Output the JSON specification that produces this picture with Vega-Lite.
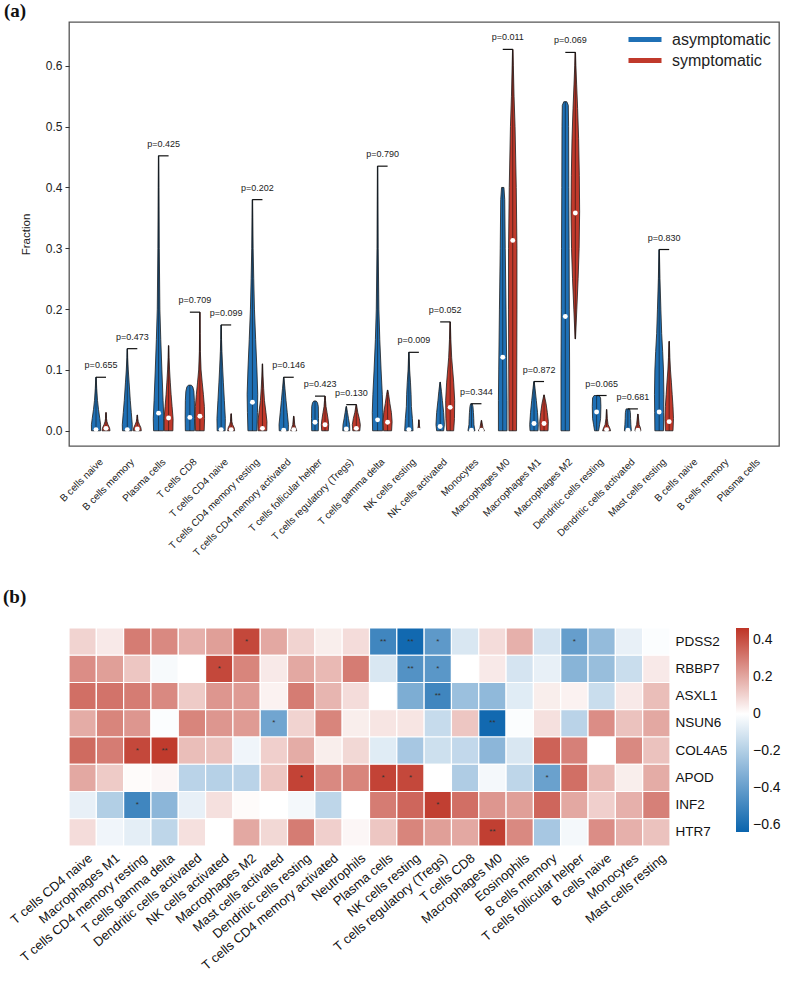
{
"$schema": "https://vega.github.io/schema/vega-lite/v6.json",
"padding": {"left": 3, "top": 1, "right": 2, "bottom": 2},
"spacing": 29,
"resolve": {"scale": {"color": "independent"}, "legend": {"color": "independent"}},
"config": {"font": "Liberation Sans", "axis": {"labelColor": "#222", "titleColor": "#222"}, "legend": {"labelColor": "#222"}, "title": {"color": "#111"}},
"datasets": {
"prof": [
{"c":0,"g":"a","v":0,"d":4.5},{"c":0,"g":"a","v":0.01,"d":4.6},{"c":0,"g":"a","v":0.02,"d":3.8},{"c":0,"g":"a","v":0.035,"d":2.5},{"c":0,"g":"a","v":0.05,"d":1.5},{"c":0,"g":"a","v":0.07,"d":0.7},{"c":0,"g":"a","v":0.088,"d":0.2},
{"c":0,"g":"s","v":0,"d":4},{"c":0,"g":"s","v":0.005,"d":3.5},{"c":0,"g":"s","v":0.01,"d":2},{"c":0,"g":"s","v":0.015,"d":1},{"c":0,"g":"s","v":0.02,"d":0.5},{"c":0,"g":"s","v":0.03,"d":0.2},
{"c":1,"g":"a","v":0,"d":4.8},{"c":1,"g":"a","v":0.01,"d":5},{"c":1,"g":"a","v":0.03,"d":4},{"c":1,"g":"a","v":0.05,"d":3},{"c":1,"g":"a","v":0.08,"d":1.8},{"c":1,"g":"a","v":0.1,"d":1},{"c":1,"g":"a","v":0.12,"d":0.4},{"c":1,"g":"a","v":0.135,"d":0.2},
{"c":1,"g":"s","v":0,"d":4},{"c":1,"g":"s","v":0.005,"d":3.6},{"c":1,"g":"s","v":0.01,"d":2.2},{"c":1,"g":"s","v":0.015,"d":1},{"c":1,"g":"s","v":0.02,"d":0.5},{"c":1,"g":"s","v":0.026,"d":0.2},
{"c":2,"g":"a","v":0,"d":5},{"c":2,"g":"a","v":0.02,"d":5.3},{"c":2,"g":"a","v":0.05,"d":4.5},{"c":2,"g":"a","v":0.1,"d":3.3},{"c":2,"g":"a","v":0.15,"d":2.2},{"c":2,"g":"a","v":0.2,"d":1.3},{"c":2,"g":"a","v":0.3,"d":0.7},{"c":2,"g":"a","v":0.4,"d":0.4},{"c":2,"g":"a","v":0.452,"d":0.2},
{"c":2,"g":"s","v":0,"d":4.3},{"c":2,"g":"s","v":0.02,"d":4.5},{"c":2,"g":"s","v":0.04,"d":3.5},{"c":2,"g":"s","v":0.06,"d":2.5},{"c":2,"g":"s","v":0.08,"d":1.7},{"c":2,"g":"s","v":0.1,"d":1},{"c":2,"g":"s","v":0.12,"d":0.5},{"c":2,"g":"s","v":0.14,"d":0.2},
{"c":3,"g":"a","v":0,"d":4.5},{"c":3,"g":"a","v":0.02,"d":4.7},{"c":3,"g":"a","v":0.05,"d":4.5},{"c":3,"g":"a","v":0.065,"d":4},{"c":3,"g":"a","v":0.072,"d":3},{"c":3,"g":"a","v":0.075,"d":1.5},
{"c":3,"g":"s","v":0,"d":4.3},{"c":3,"g":"s","v":0.02,"d":4.7},{"c":3,"g":"s","v":0.04,"d":4.5},{"c":3,"g":"s","v":0.06,"d":3.5},{"c":3,"g":"s","v":0.08,"d":2.3},{"c":3,"g":"s","v":0.1,"d":1.2},{"c":3,"g":"s","v":0.13,"d":0.5},{"c":3,"g":"s","v":0.16,"d":0.3},{"c":3,"g":"s","v":0.195,"d":0.2},
{"c":4,"g":"a","v":0,"d":4},{"c":4,"g":"a","v":0.02,"d":4.2},{"c":4,"g":"a","v":0.05,"d":3.2},{"c":4,"g":"a","v":0.08,"d":2.2},{"c":4,"g":"a","v":0.1,"d":1.6},{"c":4,"g":"a","v":0.13,"d":0.8},{"c":4,"g":"a","v":0.15,"d":0.4},{"c":4,"g":"a","v":0.174,"d":0.2},
{"c":4,"g":"s","v":0,"d":3.5},{"c":4,"g":"s","v":0.005,"d":3},{"c":4,"g":"s","v":0.01,"d":1.5},{"c":4,"g":"s","v":0.015,"d":0.7},{"c":4,"g":"s","v":0.028,"d":0.2},
{"c":5,"g":"a","v":0,"d":4.5},{"c":5,"g":"a","v":0.03,"d":5},{"c":5,"g":"a","v":0.06,"d":5.3},{"c":5,"g":"a","v":0.1,"d":4.5},{"c":5,"g":"a","v":0.15,"d":3.2},{"c":5,"g":"a","v":0.2,"d":2},{"c":5,"g":"a","v":0.25,"d":1.3},{"c":5,"g":"a","v":0.3,"d":0.7},{"c":5,"g":"a","v":0.35,"d":0.4},{"c":5,"g":"a","v":0.38,"d":0.2},
{"c":5,"g":"s","v":0,"d":4.3},{"c":5,"g":"s","v":0.015,"d":4.5},{"c":5,"g":"s","v":0.03,"d":3.5},{"c":5,"g":"s","v":0.05,"d":2},{"c":5,"g":"s","v":0.07,"d":1.2},{"c":5,"g":"s","v":0.09,"d":0.6},{"c":5,"g":"s","v":0.11,"d":0.2},
{"c":6,"g":"a","v":0,"d":4.5},{"c":6,"g":"a","v":0.01,"d":4.7},{"c":6,"g":"a","v":0.03,"d":3.5},{"c":6,"g":"a","v":0.05,"d":2.3},{"c":6,"g":"a","v":0.07,"d":1.2},{"c":6,"g":"a","v":0.088,"d":0.2},
{"c":6,"g":"s","v":0,"d":3},{"c":6,"g":"s","v":0.005,"d":2},{"c":6,"g":"s","v":0.01,"d":1},{"c":6,"g":"s","v":0.024,"d":0.2},
{"c":7,"g":"a","v":0,"d":3.3},{"c":7,"g":"a","v":0.02,"d":3.5},{"c":7,"g":"a","v":0.04,"d":3.3},{"c":7,"g":"a","v":0.046,"d":2.5},{"c":7,"g":"a","v":0.049,"d":1.2},
{"c":7,"g":"s","v":0,"d":3.3},{"c":7,"g":"s","v":0.01,"d":3.7},{"c":7,"g":"s","v":0.02,"d":3},{"c":7,"g":"s","v":0.03,"d":2},{"c":7,"g":"s","v":0.04,"d":1},{"c":7,"g":"s","v":0.05,"d":0.5},{"c":7,"g":"s","v":0.057,"d":0.2},
{"c":8,"g":"a","v":0,"d":3.5},{"c":8,"g":"a","v":0.01,"d":3.3},{"c":8,"g":"a","v":0.02,"d":2.2},{"c":8,"g":"a","v":0.03,"d":1.2},{"c":8,"g":"a","v":0.04,"d":0.2},
{"c":8,"g":"s","v":0,"d":3.5},{"c":8,"g":"s","v":0.01,"d":4},{"c":8,"g":"s","v":0.02,"d":3},{"c":8,"g":"s","v":0.03,"d":1.5},{"c":8,"g":"s","v":0.043,"d":0.2},
{"c":9,"g":"a","v":0,"d":5},{"c":9,"g":"a","v":0.03,"d":5.3},{"c":9,"g":"a","v":0.06,"d":4.7},{"c":9,"g":"a","v":0.1,"d":3.5},{"c":9,"g":"a","v":0.15,"d":2.2},{"c":9,"g":"a","v":0.2,"d":1.3},{"c":9,"g":"a","v":0.3,"d":0.6},{"c":9,"g":"a","v":0.435,"d":0.2},
{"c":9,"g":"s","v":0,"d":4},{"c":9,"g":"s","v":0.015,"d":4.5},{"c":9,"g":"s","v":0.03,"d":3.8},{"c":9,"g":"s","v":0.045,"d":2.3},{"c":9,"g":"s","v":0.06,"d":1},{"c":9,"g":"s","v":0.067,"d":0.2},
{"c":10,"g":"a","v":0,"d":4.2},{"c":10,"g":"a","v":0.02,"d":3.5},{"c":10,"g":"a","v":0.04,"d":2.5},{"c":10,"g":"a","v":0.06,"d":2.2},{"c":10,"g":"a","v":0.08,"d":1.6},{"c":10,"g":"a","v":0.1,"d":0.8},{"c":10,"g":"a","v":0.129,"d":0.2},
{"c":10,"g":"s","v":0,"d":1.5},{"c":10,"g":"s","v":0.008,"d":0.6},{"c":10,"g":"s","v":0.018,"d":0.2},
{"c":11,"g":"a","v":0,"d":3.5},{"c":11,"g":"a","v":0.01,"d":4.2},{"c":11,"g":"a","v":0.03,"d":3.5},{"c":11,"g":"a","v":0.05,"d":2.2},{"c":11,"g":"a","v":0.065,"d":1.3},{"c":11,"g":"a","v":0.08,"d":0.2},
{"c":11,"g":"s","v":0,"d":3.5},{"c":11,"g":"s","v":0.02,"d":4.3},{"c":11,"g":"s","v":0.05,"d":4.5},{"c":11,"g":"s","v":0.08,"d":3.5},{"c":11,"g":"s","v":0.1,"d":2.5},{"c":11,"g":"s","v":0.12,"d":1.5},{"c":11,"g":"s","v":0.15,"d":0.7},{"c":11,"g":"s","v":0.179,"d":0.2},
{"c":12,"g":"a","v":0,"d":3.5},{"c":12,"g":"a","v":0.01,"d":2.5},{"c":12,"g":"a","v":0.02,"d":2.3},{"c":12,"g":"a","v":0.03,"d":2},{"c":12,"g":"a","v":0.04,"d":1.5},{"c":12,"g":"a","v":0.0445,"d":0.8},
{"c":12,"g":"s","v":0,"d":3},{"c":12,"g":"s","v":0.005,"d":1.5},{"c":12,"g":"s","v":0.017,"d":0.2},
{"c":13,"g":"a","v":0,"d":4.3},{"c":13,"g":"a","v":0.05,"d":4.3},{"c":13,"g":"a","v":0.1,"d":4},{"c":13,"g":"a","v":0.2,"d":3.3},{"c":13,"g":"a","v":0.3,"d":2.5},{"c":13,"g":"a","v":0.38,"d":2},{"c":13,"g":"a","v":0.4,"d":1.2},
{"c":13,"g":"s","v":0,"d":3.8},{"c":13,"g":"s","v":0.1,"d":4},{"c":13,"g":"s","v":0.2,"d":4.2},{"c":13,"g":"s","v":0.3,"d":4.2},{"c":13,"g":"s","v":0.4,"d":3.5},{"c":13,"g":"s","v":0.5,"d":2.3},{"c":13,"g":"s","v":0.55,"d":1.3},{"c":13,"g":"s","v":0.6,"d":0.6},{"c":13,"g":"s","v":0.627,"d":0.2},
{"c":14,"g":"a","v":0,"d":4},{"c":14,"g":"a","v":0.01,"d":4.3},{"c":14,"g":"a","v":0.03,"d":3.5},{"c":14,"g":"a","v":0.05,"d":2.3},{"c":14,"g":"a","v":0.07,"d":1},{"c":14,"g":"a","v":0.081,"d":0.2},
{"c":14,"g":"s","v":0,"d":4},{"c":14,"g":"s","v":0.015,"d":4.3},{"c":14,"g":"s","v":0.03,"d":3.3},{"c":14,"g":"s","v":0.045,"d":2},{"c":14,"g":"s","v":0.059,"d":0.2},
{"c":15,"g":"a","v":0,"d":4.3},{"c":15,"g":"a","v":0.1,"d":4.3},{"c":15,"g":"a","v":0.2,"d":4},{"c":15,"g":"a","v":0.3,"d":3.8},{"c":15,"g":"a","v":0.4,"d":3.5},{"c":15,"g":"a","v":0.5,"d":3.3},{"c":15,"g":"a","v":0.535,"d":3},{"c":15,"g":"a","v":0.541,"d":1.5},
{"c":15,"g":"s","v":0.151,"d":0.2},{"c":15,"g":"s","v":0.2,"d":1.5},{"c":15,"g":"s","v":0.25,"d":2.8},{"c":15,"g":"s","v":0.3,"d":3.8},{"c":15,"g":"s","v":0.36,"d":4.3},{"c":15,"g":"s","v":0.42,"d":4},{"c":15,"g":"s","v":0.48,"d":3.3},{"c":15,"g":"s","v":0.53,"d":2.3},{"c":15,"g":"s","v":0.57,"d":1.3},{"c":15,"g":"s","v":0.6,"d":0.6},{"c":15,"g":"s","v":0.622,"d":0.2},
{"c":16,"g":"a","v":0,"d":2},{"c":16,"g":"a","v":0.01,"d":3},{"c":16,"g":"a","v":0.02,"d":4},{"c":16,"g":"a","v":0.04,"d":4.3},{"c":16,"g":"a","v":0.054,"d":4},{"c":16,"g":"a","v":0.058,"d":2.5},
{"c":16,"g":"s","v":0,"d":4},{"c":16,"g":"s","v":0.005,"d":3},{"c":16,"g":"s","v":0.01,"d":1.5},{"c":16,"g":"s","v":0.02,"d":0.7},{"c":16,"g":"s","v":0.035,"d":0.2},
{"c":17,"g":"a","v":0,"d":3.5},{"c":17,"g":"a","v":0.01,"d":3},{"c":17,"g":"a","v":0.02,"d":2.7},{"c":17,"g":"a","v":0.03,"d":2.5},{"c":17,"g":"a","v":0.036,"d":1.8},
{"c":17,"g":"s","v":0,"d":3},{"c":17,"g":"s","v":0.005,"d":2.5},{"c":17,"g":"s","v":0.01,"d":1.3},{"c":17,"g":"s","v":0.0275,"d":0.2},
{"c":18,"g":"a","v":0,"d":4.3},{"c":18,"g":"a","v":0.03,"d":4.5},{"c":18,"g":"a","v":0.06,"d":4.7},{"c":18,"g":"a","v":0.1,"d":4.3},{"c":18,"g":"a","v":0.13,"d":3.5},{"c":18,"g":"a","v":0.16,"d":2.5},{"c":18,"g":"a","v":0.2,"d":1.7},{"c":18,"g":"a","v":0.25,"d":0.8},{"c":18,"g":"a","v":0.298,"d":0.2},
{"c":18,"g":"s","v":0,"d":3.8},{"c":18,"g":"s","v":0.02,"d":4.3},{"c":18,"g":"s","v":0.04,"d":3.8},{"c":18,"g":"s","v":0.06,"d":3},{"c":18,"g":"s","v":0.08,"d":2.2},{"c":18,"g":"s","v":0.1,"d":1.3},{"c":18,"g":"s","v":0.12,"d":0.7},{"c":18,"g":"s","v":0.147,"d":0.2}
],
"stats": [
{"c":0,"g":"a","lo":0,"hi":0.088,"med":0.002},{"c":0,"g":"s","lo":0,"hi":0.03,"med":0.004},
{"c":1,"g":"a","lo":0,"hi":0.135,"med":0.002},{"c":1,"g":"s","lo":0,"hi":0.026,"med":0.003},
{"c":2,"g":"a","lo":0,"hi":0.452,"med":0.029},{"c":2,"g":"s","lo":0,"hi":0.14,"med":0.021},
{"c":3,"g":"a","lo":0,"hi":0.075,"med":0.022},{"c":3,"g":"s","lo":0,"hi":0.195,"med":0.024},
{"c":4,"g":"a","lo":0,"hi":0.174,"med":0.002},{"c":4,"g":"s","lo":0,"hi":0.028,"med":0.002},
{"c":5,"g":"a","lo":0,"hi":0.38,"med":0.047},{"c":5,"g":"s","lo":0,"hi":0.11,"med":0.004},
{"c":6,"g":"a","lo":0,"hi":0.088,"med":0.001},{"c":6,"g":"s","lo":0,"hi":0.024,"med":0.002},
{"c":7,"g":"a","lo":0,"hi":0.049,"med":0.014},{"c":7,"g":"s","lo":0,"hi":0.057,"med":0.01},
{"c":8,"g":"a","lo":0,"hi":0.04,"med":0.003},{"c":8,"g":"s","lo":0,"hi":0.043,"med":0.004},
{"c":9,"g":"a","lo":0,"hi":0.435,"med":0.018},{"c":9,"g":"s","lo":0,"hi":0.067,"med":0.014},
{"c":10,"g":"a","lo":0,"hi":0.129,"med":0.002},{"c":10,"g":"s","lo":0,"hi":0.018,"med":0.001},
{"c":11,"g":"a","lo":0,"hi":0.08,"med":0.007},{"c":11,"g":"s","lo":0,"hi":0.179,"med":0.0385},
{"c":12,"g":"a","lo":0,"hi":0.0445,"med":0.001},{"c":12,"g":"s","lo":0,"hi":0.017,"med":0.001},
{"c":13,"g":"a","lo":0,"hi":0.4,"med":0.121},{"c":13,"g":"s","lo":0,"hi":0.627,"med":0.313},
{"c":14,"g":"a","lo":0,"hi":0.081,"med":0.012},{"c":14,"g":"s","lo":0,"hi":0.059,"med":0.012},
{"c":15,"g":"a","lo":0,"hi":0.541,"med":0.188},{"c":15,"g":"s","lo":0.151,"hi":0.622,"med":0.358},
{"c":16,"g":"a","lo":0,"hi":0.058,"med":0.031},{"c":16,"g":"s","lo":0,"hi":0.035,"med":0.002},
{"c":17,"g":"a","lo":0,"hi":0.036,"med":0.001},{"c":17,"g":"s","lo":0,"hi":0.0275,"med":0.001},
{"c":18,"g":"a","lo":0,"hi":0.298,"med":0.031},{"c":18,"g":"s","lo":0,"hi":0.147,"med":0.015}
],
"pv": [
{"c":0,"top":0.088,"p":"p=0.655"},{"c":1,"top":0.135,"p":"p=0.473"},{"c":2,"top":0.452,"p":"p=0.425"},{"c":3,"top":0.195,"p":"p=0.709"},
{"c":4,"top":0.174,"p":"p=0.099"},{"c":5,"top":0.38,"p":"p=0.202"},{"c":6,"top":0.088,"p":"p=0.146"},{"c":7,"top":0.057,"p":"p=0.423"},
{"c":8,"top":0.043,"p":"p=0.130"},{"c":9,"top":0.435,"p":"p=0.790"},{"c":10,"top":0.129,"p":"p=0.009"},{"c":11,"top":0.179,"p":"p=0.052"},
{"c":12,"top":0.0445,"p":"p=0.344"},{"c":13,"top":0.627,"p":"p=0.011"},{"c":14,"top":0.081,"p":"p=0.872"},{"c":15,"top":0.622,"p":"p=0.069"},
{"c":16,"top":0.058,"p":"p=0.065"},{"c":17,"top":0.036,"p":"p=0.681"},{"c":18,"top":0.298,"p":"p=0.830"}
],
"heat": [
{"gene":"PDSS2","k":1,"r":0.1},{"gene":"PDSS2","k":2,"r":0.05},{"gene":"PDSS2","k":3,"r":0.3},{"gene":"PDSS2","k":4,"r":0.27},{"gene":"PDSS2","k":5,"r":0.18},{"gene":"PDSS2","k":6,"r":0.22},{"gene":"PDSS2","k":7,"r":0.42,"s":"*"},{"gene":"PDSS2","k":8,"r":0.2},{"gene":"PDSS2","k":9,"r":0.1},{"gene":"PDSS2","k":10,"r":0.04},{"gene":"PDSS2","k":11,"r":0.08},{"gene":"PDSS2","k":12,"r":-0.5,"s":"**"},{"gene":"PDSS2","k":13,"r":-0.62,"s":"**"},{"gene":"PDSS2","k":14,"r":-0.42,"s":"*"},{"gene":"PDSS2","k":15,"r":-0.1},{"gene":"PDSS2","k":16,"r":0.08},{"gene":"PDSS2","k":17,"r":0.18},{"gene":"PDSS2","k":18,"r":-0.11},{"gene":"PDSS2","k":19,"r":-0.4,"s":"*"},{"gene":"PDSS2","k":20,"r":-0.28},{"gene":"PDSS2","k":21,"r":-0.06},{"gene":"PDSS2","k":22,"r":-0.01},
{"gene":"RBBP7","k":1,"r":0.26},{"gene":"RBBP7","k":2,"r":0.22},{"gene":"RBBP7","k":3,"r":0.13},{"gene":"RBBP7","k":4,"r":-0.02},{"gene":"RBBP7","k":5,"r":0},{"gene":"RBBP7","k":6,"r":0.42,"s":"*"},{"gene":"RBBP7","k":7,"r":0.28},{"gene":"RBBP7","k":8,"r":0.05},{"gene":"RBBP7","k":9,"r":0.2},{"gene":"RBBP7","k":10,"r":0.16},{"gene":"RBBP7","k":11,"r":0.3},{"gene":"RBBP7","k":12,"r":-0.1},{"gene":"RBBP7","k":13,"r":-0.45,"s":"**"},{"gene":"RBBP7","k":14,"r":-0.43,"s":"*"},{"gene":"RBBP7","k":15,"r":0},{"gene":"RBBP7","k":16,"r":0.05},{"gene":"RBBP7","k":17,"r":-0.11},{"gene":"RBBP7","k":18,"r":-0.06},{"gene":"RBBP7","k":19,"r":-0.31},{"gene":"RBBP7","k":20,"r":-0.27},{"gene":"RBBP7","k":21,"r":-0.14},{"gene":"RBBP7","k":22,"r":0.05},
{"gene":"ASXL1","k":1,"r":0.33},{"gene":"ASXL1","k":2,"r":0.32},{"gene":"ASXL1","k":3,"r":0.3},{"gene":"ASXL1","k":4,"r":0.27},{"gene":"ASXL1","k":5,"r":0.12},{"gene":"ASXL1","k":6,"r":0.24},{"gene":"ASXL1","k":7,"r":0.23},{"gene":"ASXL1","k":8,"r":0.03},{"gene":"ASXL1","k":9,"r":0.3},{"gene":"ASXL1","k":10,"r":0.17},{"gene":"ASXL1","k":11,"r":0.08},{"gene":"ASXL1","k":12,"r":0},{"gene":"ASXL1","k":13,"r":-0.34},{"gene":"ASXL1","k":14,"r":-0.5,"s":"**"},{"gene":"ASXL1","k":15,"r":-0.26},{"gene":"ASXL1","k":16,"r":-0.29},{"gene":"ASXL1","k":17,"r":-0.08},{"gene":"ASXL1","k":18,"r":0.04},{"gene":"ASXL1","k":19,"r":0.03},{"gene":"ASXL1","k":20,"r":-0.14},{"gene":"ASXL1","k":21,"r":0.05},{"gene":"ASXL1","k":22,"r":0.15},
{"gene":"NSUN6","k":1,"r":0.19},{"gene":"NSUN6","k":2,"r":0.28},{"gene":"NSUN6","k":3,"r":0.24},{"gene":"NSUN6","k":4,"r":-0.01},{"gene":"NSUN6","k":5,"r":0.28},{"gene":"NSUN6","k":6,"r":0.24},{"gene":"NSUN6","k":7,"r":0.23},{"gene":"NSUN6","k":8,"r":-0.37,"s":"*"},{"gene":"NSUN6","k":9,"r":0.1},{"gene":"NSUN6","k":10,"r":0.28},{"gene":"NSUN6","k":11,"r":0.04},{"gene":"NSUN6","k":12,"r":0.06},{"gene":"NSUN6","k":13,"r":0.06},{"gene":"NSUN6","k":14,"r":-0.15},{"gene":"NSUN6","k":15,"r":0.13},{"gene":"NSUN6","k":16,"r":-0.62,"s":"**"},{"gene":"NSUN6","k":17,"r":-0.01},{"gene":"NSUN6","k":18,"r":0.07},{"gene":"NSUN6","k":19,"r":-0.18},{"gene":"NSUN6","k":20,"r":0.26},{"gene":"NSUN6","k":21,"r":0.14},{"gene":"NSUN6","k":22,"r":0.2},
{"gene":"COL4A5","k":1,"r":0.34},{"gene":"COL4A5","k":2,"r":0.3},{"gene":"COL4A5","k":3,"r":0.42,"s":"*"},{"gene":"COL4A5","k":4,"r":0.45,"s":"**"},{"gene":"COL4A5","k":5,"r":0.15},{"gene":"COL4A5","k":6,"r":0.14},{"gene":"COL4A5","k":7,"r":-0.04},{"gene":"COL4A5","k":8,"r":0.11},{"gene":"COL4A5","k":9,"r":0.19},{"gene":"COL4A5","k":10,"r":0.04},{"gene":"COL4A5","k":11,"r":0.09},{"gene":"COL4A5","k":12,"r":-0.08},{"gene":"COL4A5","k":13,"r":-0.23},{"gene":"COL4A5","k":14,"r":-0.13},{"gene":"COL4A5","k":15,"r":-0.16},{"gene":"COL4A5","k":16,"r":-0.3},{"gene":"COL4A5","k":17,"r":-0.1},{"gene":"COL4A5","k":18,"r":0.36},{"gene":"COL4A5","k":19,"r":0.29},{"gene":"COL4A5","k":20,"r":0},{"gene":"COL4A5","k":21,"r":0.27},{"gene":"COL4A5","k":22,"r":0.14},
{"gene":"APOD","k":1,"r":0.2},{"gene":"APOD","k":2,"r":0.12},{"gene":"APOD","k":3,"r":0.01},{"gene":"APOD","k":4,"r":0.02},{"gene":"APOD","k":5,"r":-0.18},{"gene":"APOD","k":6,"r":-0.19},{"gene":"APOD","k":7,"r":-0.18},{"gene":"APOD","k":8,"r":0.13},{"gene":"APOD","k":9,"r":0.43,"s":"*"},{"gene":"APOD","k":10,"r":0.27},{"gene":"APOD","k":11,"r":0.28},{"gene":"APOD","k":12,"r":0.43,"s":"*"},{"gene":"APOD","k":13,"r":0.42,"s":"*"},{"gene":"APOD","k":14,"r":0},{"gene":"APOD","k":15,"r":-0.21},{"gene":"APOD","k":16,"r":-0.03},{"gene":"APOD","k":17,"r":-0.17},{"gene":"APOD","k":18,"r":-0.39,"s":"*"},{"gene":"APOD","k":19,"r":0.33},{"gene":"APOD","k":20,"r":0.16},{"gene":"APOD","k":21,"r":0.04},{"gene":"APOD","k":22,"r":0.19},
{"gene":"INF2","k":1,"r":-0.06},{"gene":"INF2","k":2,"r":-0.2},{"gene":"INF2","k":3,"r":-0.5,"s":"*"},{"gene":"INF2","k":4,"r":-0.3},{"gene":"INF2","k":5,"r":-0.06},{"gene":"INF2","k":6,"r":0.07},{"gene":"INF2","k":7,"r":0.01},{"gene":"INF2","k":8,"r":0},{"gene":"INF2","k":9,"r":-0.03},{"gene":"INF2","k":10,"r":-0.17},{"gene":"INF2","k":11,"r":0},{"gene":"INF2","k":12,"r":0.3},{"gene":"INF2","k":13,"r":0.35},{"gene":"INF2","k":14,"r":0.44,"s":"*"},{"gene":"INF2","k":15,"r":0.33},{"gene":"INF2","k":16,"r":0.24},{"gene":"INF2","k":17,"r":0.22},{"gene":"INF2","k":18,"r":0.35},{"gene":"INF2","k":19,"r":0.2},{"gene":"INF2","k":20,"r":0.11},{"gene":"INF2","k":21,"r":0.18},{"gene":"INF2","k":22,"r":0.29},
{"gene":"HTR7","k":1,"r":0.08},{"gene":"HTR7","k":2,"r":-0.04},{"gene":"HTR7","k":3,"r":-0.07},{"gene":"HTR7","k":4,"r":-0.17},{"gene":"HTR7","k":5,"r":0.07},{"gene":"HTR7","k":6,"r":0},{"gene":"HTR7","k":7,"r":0.2},{"gene":"HTR7","k":8,"r":0.09},{"gene":"HTR7","k":9,"r":0.3},{"gene":"HTR7","k":10,"r":0.11},{"gene":"HTR7","k":11,"r":0.02},{"gene":"HTR7","k":12,"r":0.13},{"gene":"HTR7","k":13,"r":0.28},{"gene":"HTR7","k":14,"r":0.22},{"gene":"HTR7","k":15,"r":0.2},{"gene":"HTR7","k":16,"r":0.44,"s":"**"},{"gene":"HTR7","k":17,"r":0.27},{"gene":"HTR7","k":18,"r":-0.23},{"gene":"HTR7","k":19,"r":-0.03},{"gene":"HTR7","k":20,"r":0.26},{"gene":"HTR7","k":21,"r":0.18},{"gene":"HTR7","k":22,"r":0.14}
]
},
"vconcat": [
{
"width": 710, "height": 424,
"view": {"stroke": "#555", "strokeWidth": 1.3},
"title": {"text": "(a)", "anchor": "start", "frame": "group", "dx": -65, "offset": 1, "font": "Liberation Serif", "fontSize": 19, "fontWeight": "bold"},
"layer": [
{
"data": {"name": "stats"},
"transform": [{"calculate": "datum.c + (datum.g === 'a' ? -0.16 : 0.16)", "as": "xc"}],
"mark": {"type": "rule"},
"encoding": {
"x": {"field": "xc", "type": "quantitative", "scale": {"domain": [-1.023, 21.67], "nice": false, "zero": false},
 "axis": {"values": [0,1,2,3,4,5,6,7,8,9,10,11,12,13,14,15,16,17,18,19,20,21], "labelExpr": "['B cells naive','B cells memory','Plasma cells','T cells CD8','T cells CD4 naive','T cells CD4 memory resting','T cells CD4 memory activated','T cells follicular helper','T cells regulatory (Tregs)','T cells gamma delta','NK cells resting','NK cells activated','Monocytes','Macrophages M0','Macrophages M1','Macrophages M2','Dendritic cells resting','Dendritic cells activated','Mast cells resting','B cells naive','B cells memory','Plasma cells'][datum.value]", "labelAngle": -45, "labelAlign": "right", "labelBaseline": "middle", "labelFontSize": 10, "ticks": false, "domain": false, "grid": false, "title": null, "labelPadding": 14, "labelOverlap": false, "labelFlush": false, "labelBound": false}},
"y": {"field": "lo", "type": "quantitative", "scale": {"domain": [-0.025, 0.672], "nice": false, "zero": false},
 "axis": {"values": [0, 0.1, 0.2, 0.3, 0.4, 0.5, 0.6], "format": ".1f", "title": "Fraction", "titleFontSize": 11.5, "titleFontWeight": "normal", "titlePadding": 14, "labelFontSize": 12, "tickSize": 4, "tickColor": "#333", "domain": false, "grid": false, "labelPadding": 3}},
"y2": {"field": "hi"},
"color": {"field": "g", "type": "nominal", "scale": {"domain": ["a", "s"], "range": ["#1f70b5", "#c0392b"]},
 "legend": {"title": null, "orient": "none", "legendX": 568, "legendY": 9.5, "symbolType": "M-3.3,0H3.3", "symbolSize": 100, "symbolStrokeWidth": 5, "labelFontSize": 16, "labelOffset": 19, "rowPadding": 1, "padding": 0, "labelExpr": "datum.value === 'a' ? 'asymptomatic' : 'symptomatic'"}}
}
},
{
"data": {"name": "prof"},
"transform": [
{"calculate": "datum.c + (datum.g === 'a' ? -0.16 : 0.16)", "as": "xc"},
{"calculate": "datum.xc - datum.d * 0.032", "as": "xl"},
{"calculate": "datum.xc + datum.d * 0.032", "as": "xr"}
],
"mark": {"type": "area", "orient": "horizontal", "stroke": "#1e1e1e", "strokeWidth": 0.8, "strokeJoin": "round", "opacity": 1},
"encoding": {
"y": {"field": "v", "type": "quantitative", "scale": {"domain": [-0.025, 0.672], "nice": false, "zero": false},
 "axis": {"values": [0, 0.1, 0.2, 0.3, 0.4, 0.5, 0.6], "format": ".1f", "title": "Fraction", "titleFontSize": 11.5, "titleFontWeight": "normal", "titlePadding": 14, "labelFontSize": 12, "tickSize": 4, "tickColor": "#333", "domain": false, "grid": false, "labelPadding": 3}},
"x": {"field": "xl", "type": "quantitative", "scale": {"domain": [-1.023, 21.67], "nice": false, "zero": false},
 "axis": {"values": [0,1,2,3,4,5,6,7,8,9,10,11,12,13,14,15,16,17,18,19,20,21], "labelExpr": "['B cells naive','B cells memory','Plasma cells','T cells CD8','T cells CD4 naive','T cells CD4 memory resting','T cells CD4 memory activated','T cells follicular helper','T cells regulatory (Tregs)','T cells gamma delta','NK cells resting','NK cells activated','Monocytes','Macrophages M0','Macrophages M1','Macrophages M2','Dendritic cells resting','Dendritic cells activated','Mast cells resting','B cells naive','B cells memory','Plasma cells'][datum.value]", "labelAngle": -45, "labelAlign": "right", "labelBaseline": "middle", "labelFontSize": 10, "ticks": false, "domain": false, "grid": false, "title": null, "labelPadding": 14, "labelOverlap": false, "labelFlush": false, "labelBound": false}},
"x2": {"field": "xr"},
"fill": {"field": "g", "type": "nominal", "scale": {"domain": ["a", "s"], "range": ["#1f70b5", "#c0392b"]}, "legend": null},
"detail": {"field": "c", "type": "nominal"}
}
},
{
"data": {"name": "stats"},
"transform": [{"calculate": "datum.c + (datum.g === 'a' ? -0.16 : 0.16)", "as": "xc"}],
"mark": {"type": "rule", "color": "#111", "strokeWidth": 1, "opacity": 0.55},
"encoding": {
"x": {"field": "xc", "type": "quantitative", "scale": {"domain": [-1.023, 21.67], "nice": false, "zero": false},
 "axis": {"values": [0,1,2,3,4,5,6,7,8,9,10,11,12,13,14,15,16,17,18,19,20,21], "labelExpr": "['B cells naive','B cells memory','Plasma cells','T cells CD8','T cells CD4 naive','T cells CD4 memory resting','T cells CD4 memory activated','T cells follicular helper','T cells regulatory (Tregs)','T cells gamma delta','NK cells resting','NK cells activated','Monocytes','Macrophages M0','Macrophages M1','Macrophages M2','Dendritic cells resting','Dendritic cells activated','Mast cells resting','B cells naive','B cells memory','Plasma cells'][datum.value]", "labelAngle": -45, "labelAlign": "right", "labelBaseline": "middle", "labelFontSize": 10, "ticks": false, "domain": false, "grid": false, "title": null, "labelPadding": 14, "labelOverlap": false, "labelFlush": false, "labelBound": false}},
"y": {"field": "lo", "type": "quantitative", "scale": {"domain": [-0.025, 0.672], "nice": false, "zero": false},
 "axis": {"values": [0, 0.1, 0.2, 0.3, 0.4, 0.5, 0.6], "format": ".1f", "title": "Fraction", "titleFontSize": 11.5, "titleFontWeight": "normal", "titlePadding": 14, "labelFontSize": 12, "tickSize": 4, "tickColor": "#333", "domain": false, "grid": false, "labelPadding": 3}},
"y2": {"field": "hi"}
}
},
{
"data": {"name": "pv"},
"transform": [{"calculate": "datum.c - 0.16", "as": "xl"}, {"calculate": "datum.c + 0.16", "as": "xr"}],
"mark": {"type": "rule", "color": "#111", "strokeWidth": 1.2},
"encoding": {
"x": {"field": "xl", "type": "quantitative", "scale": {"domain": [-1.023, 21.67], "nice": false, "zero": false},
 "axis": {"values": [0,1,2,3,4,5,6,7,8,9,10,11,12,13,14,15,16,17,18,19,20,21], "labelExpr": "['B cells naive','B cells memory','Plasma cells','T cells CD8','T cells CD4 naive','T cells CD4 memory resting','T cells CD4 memory activated','T cells follicular helper','T cells regulatory (Tregs)','T cells gamma delta','NK cells resting','NK cells activated','Monocytes','Macrophages M0','Macrophages M1','Macrophages M2','Dendritic cells resting','Dendritic cells activated','Mast cells resting','B cells naive','B cells memory','Plasma cells'][datum.value]", "labelAngle": -45, "labelAlign": "right", "labelBaseline": "middle", "labelFontSize": 10, "ticks": false, "domain": false, "grid": false, "title": null, "labelPadding": 14, "labelOverlap": false, "labelFlush": false, "labelBound": false}},
"x2": {"field": "xr"},
"y": {"field": "top", "type": "quantitative", "scale": {"domain": [-0.025, 0.672], "nice": false, "zero": false},
 "axis": {"values": [0, 0.1, 0.2, 0.3, 0.4, 0.5, 0.6], "format": ".1f", "title": "Fraction", "titleFontSize": 11.5, "titleFontWeight": "normal", "titlePadding": 14, "labelFontSize": 12, "tickSize": 4, "tickColor": "#333", "domain": false, "grid": false, "labelPadding": 3}}
}
},
{
"data": {"name": "pv"},
"mark": {"type": "text", "fontSize": 9, "dy": -12, "baseline": "middle", "color": "#222"},
"encoding": {
"x": {"field": "c", "type": "quantitative", "scale": {"domain": [-1.023, 21.67], "nice": false, "zero": false},
 "axis": {"values": [0,1,2,3,4,5,6,7,8,9,10,11,12,13,14,15,16,17,18,19,20,21], "labelExpr": "['B cells naive','B cells memory','Plasma cells','T cells CD8','T cells CD4 naive','T cells CD4 memory resting','T cells CD4 memory activated','T cells follicular helper','T cells regulatory (Tregs)','T cells gamma delta','NK cells resting','NK cells activated','Monocytes','Macrophages M0','Macrophages M1','Macrophages M2','Dendritic cells resting','Dendritic cells activated','Mast cells resting','B cells naive','B cells memory','Plasma cells'][datum.value]", "labelAngle": -45, "labelAlign": "right", "labelBaseline": "middle", "labelFontSize": 10, "ticks": false, "domain": false, "grid": false, "title": null, "labelPadding": 14, "labelOverlap": false, "labelFlush": false, "labelBound": false}},
"y": {"field": "top", "type": "quantitative", "scale": {"domain": [-0.025, 0.672], "nice": false, "zero": false},
 "axis": {"values": [0, 0.1, 0.2, 0.3, 0.4, 0.5, 0.6], "format": ".1f", "title": "Fraction", "titleFontSize": 11.5, "titleFontWeight": "normal", "titlePadding": 14, "labelFontSize": 12, "tickSize": 4, "tickColor": "#333", "domain": false, "grid": false, "labelPadding": 3}},
"text": {"field": "p"}
}
},
{
"data": {"name": "stats"},
"transform": [{"calculate": "datum.c + (datum.g === 'a' ? -0.16 : 0.16)", "as": "xc"}],
"mark": {"type": "point", "filled": true, "color": "white", "size": 24, "opacity": 1},
"encoding": {
"x": {"field": "xc", "type": "quantitative", "scale": {"domain": [-1.023, 21.67], "nice": false, "zero": false},
 "axis": {"values": [0,1,2,3,4,5,6,7,8,9,10,11,12,13,14,15,16,17,18,19,20,21], "labelExpr": "['B cells naive','B cells memory','Plasma cells','T cells CD8','T cells CD4 naive','T cells CD4 memory resting','T cells CD4 memory activated','T cells follicular helper','T cells regulatory (Tregs)','T cells gamma delta','NK cells resting','NK cells activated','Monocytes','Macrophages M0','Macrophages M1','Macrophages M2','Dendritic cells resting','Dendritic cells activated','Mast cells resting','B cells naive','B cells memory','Plasma cells'][datum.value]", "labelAngle": -45, "labelAlign": "right", "labelBaseline": "middle", "labelFontSize": 10, "ticks": false, "domain": false, "grid": false, "title": null, "labelPadding": 14, "labelOverlap": false, "labelFlush": false, "labelBound": false}},
"y": {"field": "med", "type": "quantitative", "scale": {"domain": [-0.025, 0.672], "nice": false, "zero": false},
 "axis": {"values": [0, 0.1, 0.2, 0.3, 0.4, 0.5, 0.6], "format": ".1f", "title": "Fraction", "titleFontSize": 11.5, "titleFontWeight": "normal", "titlePadding": 14, "labelFontSize": 12, "tickSize": 4, "tickColor": "#333", "domain": false, "grid": false, "labelPadding": 3}}
}
}
]
},
{
"width": 601, "height": 218,
"view": {"stroke": null},
"title": {"text": "(b)", "anchor": "start", "frame": "group", "dx": -66, "offset": 20, "font": "Liberation Serif", "fontSize": 19, "fontWeight": "bold"},
"data": {"name": "heat"},
"encoding": {
"x": {"field": "k", "type": "ordinal", "scale": {"paddingInner": 0, "paddingOuter": 0},
 "axis": {"title": null, "labelExpr": "['T cells CD4 naive','Macrophages M1','T cells CD4 memory resting','T cells gamma delta','Dendritic cells activated','NK cells activated','Macrophages M2','Mast cells activated','Dendritic cells resting','T cells CD4 memory activated','Neutrophils','Plasma cells','NK cells resting','T cells regulatory (Tregs)','T cells CD8','Macrophages M0','Eosinophils','B cells memory','T cells follicular helper','B cells naive','Monocytes','Mast cells resting'][datum.value - 1]", "labelAngle": -40, "labelAlign": "right", "labelBaseline": "middle", "labelFontSize": 13, "labelPadding": 10, "labelOffset": 8, "ticks": false, "domain": false, "labelLimit": 400, "labelColor": "#111"}},
"y": {"field": "gene", "type": "nominal", "sort": ["PDSS2", "RBBP7", "ASXL1", "NSUN6", "COL4A5", "APOD", "INF2", "HTR7"], "scale": {"paddingInner": 0, "paddingOuter": 0},
 "axis": {"title": null, "orient": "right", "ticks": false, "domain": false, "labelFontSize": 13.5, "labelPadding": 5, "labelColor": "#111"}}
},
"layer": [
{
"mark": {"type": "rect", "stroke": "white", "strokeWidth": 1.2},
"encoding": {"color": {"field": "r", "type": "quantitative", "scale": {"domain": [-0.64, 0, 0.465], "range": ["#0a64ad", "#ffffff", "#be3426"], "interpolate": "rgb"},
 "legend": {"title": null, "orient": "none", "legendX": 667, "legendY": 0, "direction": "vertical", "gradientLength": 204, "gradientThickness": 13, "values": [0.4, 0.2, 0, -0.2, -0.4, -0.6], "format": ".1~f", "labelFontSize": 14, "labelOffset": 4, "gradientStrokeWidth": 0, "labelOverlap": false, "labelColor": "#111"}}}
},
{
"transform": [{"filter": "datum.s"}],
"mark": {"type": "text", "fontSize": 8, "color": "#333", "baseline": "middle"},
"encoding": {"text": {"field": "s"}}
}
]
}
]
}
